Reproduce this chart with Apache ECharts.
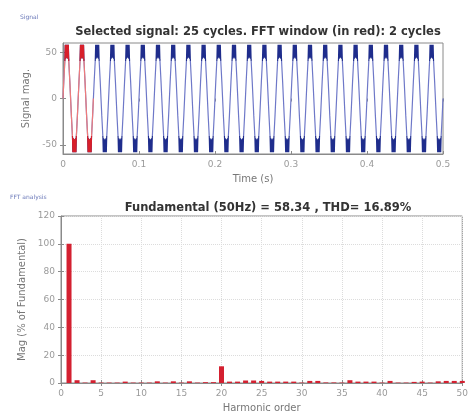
<!DOCTYPE html>
<html><head><meta charset="utf-8">
<script src="https://cdn.jsdelivr.net/npm/echarts@6/dist/echarts.min.js"></script>
<style>html,body{margin:0;padding:0;background:#fff}#c{width:471px;height:414px}</style>
</head><body><div id="c"></div>
<script>
const cycleValues = [0, 9, 18, 26, 34, 42, 58, 43, 58, 44, 58, 44, 58, 43, 58, 42, 34, 26, 18, 9,
                     0, -9, -18, -26, -34, -42, -58, -43, -58, -44, -58, -44, -58, -43, -58, -42, -34, -26, -18, -9];
const sampleStep = 0.0005;
const totalCycles = 25;
const fftCycles = 2;
const signalTicks = [-50, 0, 50];
// Harmonic magnitudes (% of fundamental), order 0..50
const harmonicOrders = Array.from({length: 51}, (_, i) => i);
const harmonicMag = [0, 100, 2, 0.3, 2, 0.3, 0.3, 0.3, 1, 0.3, 0.3, 0.3, 1.2, 0.3, 1.2, 0.3, 1.2, 0.3, 0.6, 0.6,
  12, 1, 1, 1.8, 1.8, 1.5, 1, 1, 1, 1, 0.3, 1.5, 1.5, 0.4, 0.4, 0.3, 2, 1, 1, 1, 0.3, 1.5, 0.3, 0.3, 0.8, 1,
  0.3, 1.2, 1.5, 1.5, 1.5];

const perCycle = cycleValues.length;
const fullSignal = [];
for (let c = 0; c < totalCycles; c++) {
  for (let k = 0; k < perCycle; k++) {
    const idx = c * perCycle + k;
    fullSignal.push([+(idx * sampleStep).toFixed(5), cycleValues[k]]);
  }
}
fullSignal.push([+(totalCycles * perCycle * sampleStep).toFixed(5), cycleValues[0]]);
const windowSignal = fullSignal.slice(0, fftCycles * perCycle + 1);

const FONT = 'DejaVu Sans';
const lab = {color: '#9a9a9a', fontSize: 9, fontFamily: FONT};
const nameStyle = {fontSize: 10, color: '#777', fontFamily: FONT};
const axisCol = '#8a8a8a';
const tickOnly = (gi, pos, extra) => Object.assign({
  type: 'value', gridIndex: gi, position: pos,
  axisLine: {show: false}, axisTick: {show: true, inside: true, length: 3, lineStyle: {color: axisCol}},
  axisLabel: {show: false}, splitLine: {show: false}}, extra);

const chart = echarts.init(document.getElementById('c'));
chart.setOption({
  animation: false,
  title: [
    {text: 'Signal', left: 15, top: 9, textStyle: {fontSize: 6, color: '#6a78b8', fontWeight: 'normal', fontFamily: FONT}},
    {text: 'Selected signal: 25 cycles. FFT window (in red): 2 cycles', left: 253, textAlign: 'center', top: 21,
     textStyle: {fontSize: 11.5, color: '#333', fontWeight: 'bold', fontFamily: FONT}},
    {text: 'FFT analysis', left: 5, top: 189, textStyle: {fontSize: 6, color: '#6a78b8', fontWeight: 'normal', fontFamily: FONT}},
    {text: 'Fundamental (50Hz) = 58.34 , THD= 16.89%', left: 263, textAlign: 'center', top: 197,
     textStyle: {fontSize: 11.5, color: '#333', fontWeight: 'bold', fontFamily: FONT}}
  ],
  grid: [
    {left: 63, right: 28, top: 43, height: 111, show: true, borderColor: axisCol, borderWidth: 1},
    {left: 61, right: 8, top: 216, height: 168, show: true, borderColor: axisCol, borderWidth: 1}
  ],
  visualMap: [
    {type: 'piecewise', show: false, seriesIndex: 0, dimension: 1,
     pieces: [{lt: -41, color: '#1f2d8c'}, {gte: -41, lte: 41, color: '#6e78c8'}, {gt: 41, color: '#1f2d8c'}]},
    {type: 'piecewise', show: false, seriesIndex: 1, dimension: 1,
     pieces: [{lt: -41, color: '#d81f2a'}, {gte: -41, lte: 41, color: '#ee7a7a'}, {gt: 41, color: '#d81f2a'}]}
  ],
  xAxis: [
    {type: 'value', gridIndex: 0, min: 0, max: 0.5, interval: 0.1,
     name: 'Time (s)', nameLocation: 'middle', nameGap: 20, nameTextStyle: nameStyle,
     axisLine: {show: true, onZero: false, lineStyle: {color: axisCol}}, axisTick: {inside: true, length: 3, lineStyle: {color: axisCol}},
     axisLabel: Object.assign({margin: 6, formatter: v => String(+v.toFixed(1))}, lab), splitLine: {show: false}},
    {type: 'value', gridIndex: 1, min: 0, max: 50, interval: 5,
     name: 'Harmonic order', nameLocation: 'middle', nameGap: 20, nameTextStyle: nameStyle,
     axisLine: {show: true, onZero: false, lineStyle: {color: axisCol}}, axisTick: {inside: true, length: 3, lineStyle: {color: axisCol}},
     axisLabel: Object.assign({margin: 6}, lab),
     splitLine: {show: true, lineStyle: {color: '#dcdcdc', type: 'dotted'}}},
    tickOnly(0, 'top', {min: 0, max: 0.5, interval: 0.1}),
    tickOnly(1, 'top', {min: 0, max: 50, interval: 5})
  ],
  yAxis: [
    {type: 'value', gridIndex: 0, min: -60, max: 60,
     name: 'Signal mag.', nameLocation: 'middle', nameGap: 28, nameRotate: 90, nameTextStyle: nameStyle,
     axisLine: {show: true, onZero: false, lineStyle: {color: axisCol}},
     axisTick: {inside: true, length: 3, customValues: signalTicks, lineStyle: {color: axisCol}},
     axisLabel: Object.assign({margin: 6, customValues: signalTicks}, lab), splitLine: {show: false}},
    {type: 'value', gridIndex: 1, min: 0, max: 120, interval: 20,
     name: 'Mag (% of Fundamental)', nameLocation: 'middle', nameGap: 32, nameRotate: 90, nameTextStyle: nameStyle,
     axisLine: {show: true, onZero: false, lineStyle: {color: axisCol}}, axisTick: {inside: true, length: 3, lineStyle: {color: axisCol}},
     axisLabel: Object.assign({margin: 6}, lab),
     splitLine: {show: true, lineStyle: {color: '#dcdcdc', type: 'dotted'}}},
    tickOnly(0, 'right', {min: -60, max: 60, axisTick: {show: true, inside: true, length: 3, customValues: signalTicks, lineStyle: {color: axisCol}}}),
    tickOnly(1, 'right', {min: 0, max: 120, interval: 20})
  ],
  series: [
    {type: 'line', xAxisIndex: 0, yAxisIndex: 0, data: fullSignal, showSymbol: false,
     lineStyle: {width: 1.2}, z: 2},
    {type: 'line', xAxisIndex: 0, yAxisIndex: 0, data: windowSignal, showSymbol: false,
     lineStyle: {width: 1.2}, z: 3},
    {type: 'bar', xAxisIndex: 1, yAxisIndex: 1, data: harmonicOrders.map((o, i) => [o, harmonicMag[i]]),
     barWidth: 5, itemStyle: {color: '#d42030'}, z: 3}
  ]
});
</script></body></html>
